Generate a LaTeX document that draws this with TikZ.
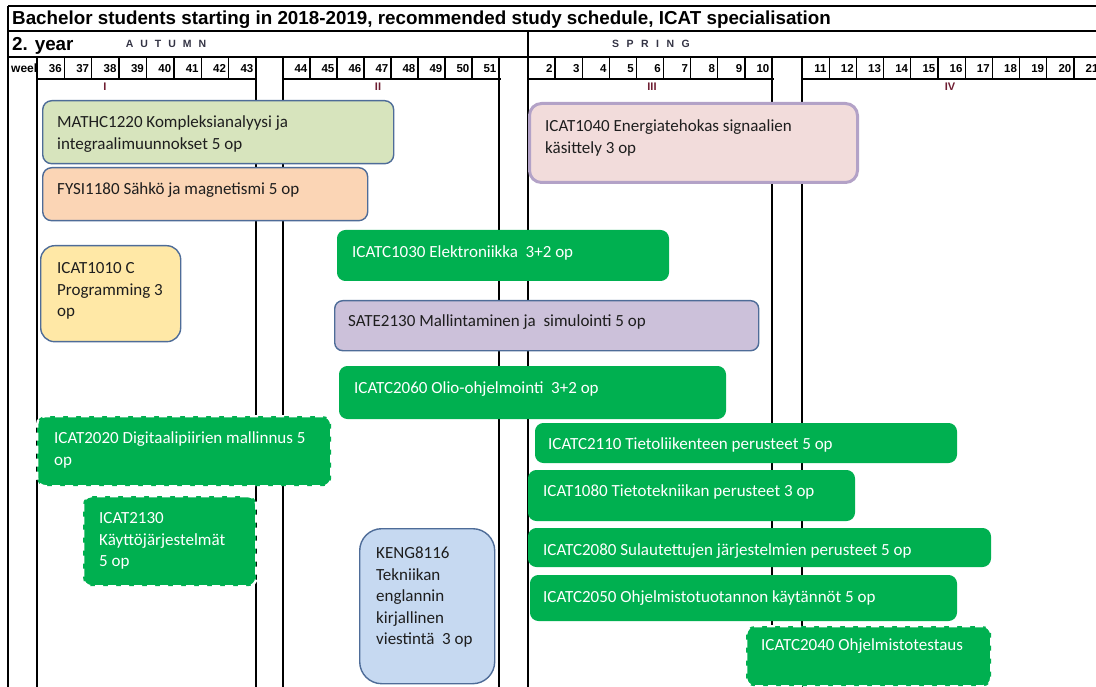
\documentclass[tikz,border=0pt]{standalone}
\usepackage{fontspec}
\setmainfont{Liberation Sans}
\newfontfamily\boxfont{Carlito}
\definecolor{cgreen}{HTML}{00B050}
\definecolor{boxedge}{HTML}{4E6C98}
\definecolor{textdark}{HTML}{1E1E1E}
\definecolor{mathfill}{HTML}{D7E4BD}
\definecolor{fysifill}{HTML}{FBD5B5}
\definecolor{cprogfill}{HTML}{FFE8A6}
\definecolor{satefill}{HTML}{CCC1DA}
\definecolor{engfill}{HTML}{C6D9F1}
\definecolor{energyfill}{HTML}{F2DCDB}
\definecolor{energyedge}{HTML}{B3A2C7}
\definecolor{periodcol}{RGB}{110,30,50}
\definecolor{seasoncol}{HTML}{333344}

% one course: box node plus its text node
% #1 name, #2 box style, #3 x, #4 y, #5 width, #6 height, #7 text style, #8 text offset, #9 text
\newcommand{\coursebox}[9]{%
  \node[#2, minimum width=#5pt, minimum height=#6pt, anchor=north west] (#1) at (#3,#4) {};
  \node[#7, anchor=north west] (#1-t) at ([shift={(#8)}]#1.north west) {#9};
}

\begin{document}
\begin{tikzpicture}[x=1pt,y=-1pt,
  gridline/.style={line width=1.3pt, draw=black},
  hdr/.style={font=\bfseries\fontsize{18.8}{20}\selectfont, inner sep=0, anchor=base west, text=black},
  wk/.style={font=\bfseries\fontsize{11.5}{12}\selectfont, inner sep=0, anchor=east, text=black},
  season/.style={font=\bfseries\fontsize{10.5}{12}\selectfont, inner sep=0, text=seasoncol},
  period/.style={font=\bfseries\fontsize{11}{12}\selectfont, inner sep=0, text=periodcol},
  box/.style={rectangle, inner sep=0, draw=boxedge, line width=1.4pt, rounded corners=9pt},
  gbox/.style={rectangle, inner sep=0, fill=cgreen, draw=cgreen, line width=1pt, rounded corners=8pt},
  dbox/.style={rectangle, inner sep=0, fill=cgreen, draw=white, line width=2.4pt,
               dash pattern=on 8pt off 5pt, rounded corners=8pt},
  txt/.style={font=\boxfont\fontsize{17}{21.5}\selectfont, align=left, inner sep=0, text=textdark},
  wtxt/.style={txt, text=white}
]
\useasboundingbox (0,0) rectangle (1096,687);

% ---------- table frame ----------
\draw[gridline, line width=1.6pt] (8,6) -- (1096,6);
\draw[gridline] (8,31) -- (1096,31);
\draw[gridline] (8,57) -- (1096,57);
\draw[gridline] (37,79) -- (257,79);
\draw[gridline] (283,79) -- (501,79);
\draw[gridline] (528,79) -- (774,79);
\draw[gridline] (802,79) -- (1096,79);
\draw[gridline] (8,6) -- (8,687);
\draw[gridline] (528,31) -- (528,687);
\foreach \x in {37,256,283,499,772,802} \draw[gridline] (\x,57) -- (\x,687);

% ---------- header texts ----------
\node[hdr] (title) at (12,25) {Bachelor students starting in 2018-2019, recommended study schedule, ICAT specialisation};
\node[hdr] (year) at (12,51) {2. year};
\node[season] (autumn) at (166,44) {A\kern7pt U\kern7pt T\kern7pt U\kern7pt M\kern7pt N};
\node[season] (spring) at (651,44) {S\kern7.5pt P\kern7.5pt R\kern7.5pt I\kern7.5pt N\kern7.5pt G};

% ---------- week row ----------
\begin{scope}
  \clip (8,57) rectangle (36,79);
  \node[wk, anchor=west, font=\bfseries\fontsize{12}{12}\selectfont] (weeklbl) at (11,68.5) {week};
\end{scope}
\foreach \n [count=\i] in {36,...,43} {
  \draw[gridline] (37+27.375*\i,57) -- ++(0,22);
  \node[wk] (wk\n) at (37+27.375*\i-2.5,68.5) {\n};
}
\foreach \n [count=\i] in {44,...,51} {
  \draw[gridline] (283+27*\i,57) -- ++(0,22);
  \node[wk] (wk\n) at (283+27*\i-2.5,68.5) {\n};
}
\foreach \n [count=\i] in {2,...,10} {
  \draw[gridline] (528+27.11*\i,57) -- ++(0,22);
  \node[wk] (wk\n) at (528+27.11*\i-2.5,68.5) {\n};
}
\foreach \n [count=\i] in {11,...,21} {
  \draw[gridline] (802+27.2*\i,57) -- ++(0,22);
  \node[wk] (wk\n) at (802+27.2*\i-2.5,68.5) {\n};
}

% ---------- periods ----------
\node[period] (pI) at (105,87) {I};
\node[period] (pII) at (378,87) {II};
\node[period] (pIII) at (652,87) {III};
\node[period] (pIV) at (950,87) {IV};

% ---------- courses ----------
\coursebox{m1220}{box, fill=mathfill}{42}{100}{351}{63}{txt}{15,15.7}{MATHC1220 Kompleksianalyysi ja\\integraalimuunnokset 5 op}
\coursebox{f1180}{box, fill=fysifill}{42}{167}{325}{53}{txt}{15,15.7}{FYSI1180 Sähkö ja magnetismi 5 op}
\coursebox{i1010}{box, fill=cprogfill, rounded corners=14pt}{40}{245}{140}{96}{txt}{17,17.7}{ICAT1010 C\\Programming 3\\op}
\coursebox{i1030}{gbox}{337}{230}{331}{50}{wtxt}{15,15.7}{ICATC1030 Elektroniikka~~3+2 op}
\coursebox{s2130}{box, fill=satefill, rounded corners=8pt}{334}{300}{424}{50}{txt}{14,14.7}{SATE2130 Mallintaminen ja~~simulointi 5 op}
\coursebox{i2060}{gbox}{339}{366}{386}{52}{wtxt}{15,15.7}{ICATC2060 Olio-ohjelmointi~~3+2 op}
\coursebox{i2020}{dbox}{36}{415}{294}{70}{wtxt}{18,16.7}{ICAT2020 Digitaalipiirien mallinnus 5\\op}
\coursebox{i2130}{dbox}{82}{495}{173}{90}{wtxt}{17,17.7}{ICAT2130\\Käyttöjärjestelmät\\5 op}
\coursebox{k8116}{box, fill=engfill, rounded corners=22pt}{359}{528}{135}{155}{txt}{17,18.7}{KENG8116\\Tekniikan\\englannin\\kirjallinen\\viestintä~~3 op}
\coursebox{i1040}{box, fill=energyfill, draw=energyedge, line width=3pt, rounded corners=12pt}{528}{102}{328}{79}{txt}{17,17.7}{ICAT1040 Energiatehokas signaalien\\käsittely 3 op}
\coursebox{i2110}{gbox}{535}{423}{421}{39}{wtxt}{13,14.7}{ICATC2110 Tietoliikenteen perusteet 5 op}
\coursebox{i1080}{gbox}{528}{470}{326}{50}{wtxt}{15,14.7}{ICAT1080 Tietotekniikan perusteet 3 op}
\coursebox{i2080}{gbox}{528}{528}{462}{38}{wtxt}{15,15.7}{ICATC2080 Sulautettujen järjestelmien perusteet 5 op}
\coursebox{i2050}{gbox}{530}{575}{426}{45}{wtxt}{13,15.7}{ICATC2050 Ohjelmistotuotannon käytännöt 5 op}
\coursebox{i2040}{dbox}{745}{625}{245}{60}{wtxt}{16,13.7}{ICATC2040 Ohjelmistotestaus}

\end{tikzpicture}
\end{document}
